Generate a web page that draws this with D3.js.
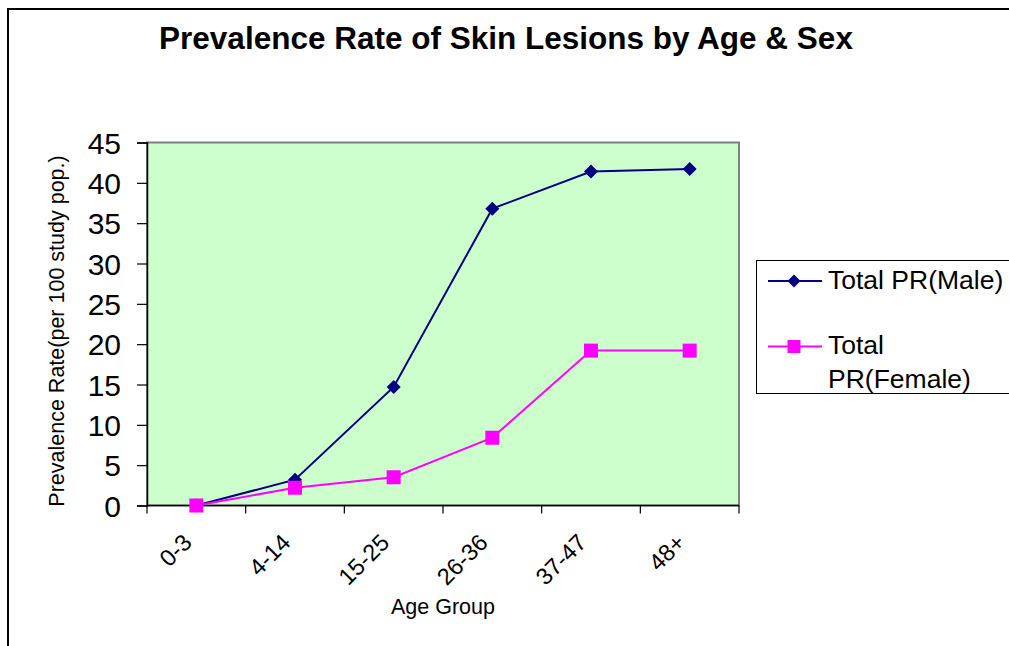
<!DOCTYPE html>
<html>
<head>
<meta charset="utf-8">
<script src="https://cdn.jsdelivr.net/npm/d3@7"></script>
<style>
  html, body { margin: 0; padding: 0; background: #fff; }
  svg { display: block; font-family: Arial, "Liberation Sans", sans-serif; }
</style>
</head>
<body>
<svg id="chart" width="1009" height="646"></svg>
<script>
const categories = ["0-3", "4-14", "15-25", "26-36", "37-47", "48+"];
const maleValues = [0, 3.2, 14.7, 36.8, 41.4, 41.7];
const femaleValues = [0, 2.2, 3.5, 8.4, 19.2, 19.2];
const yTicks = [0, 5, 10, 15, 20, 25, 30, 35, 40, 45];
const seriesNames = ["Total PR(Male)", "Total PR(Female)"];
const titleText = "Prevalence Rate of Skin Lesions by Age & Sex";
const xTitle = "Age Group";
const yTitle = "Prevalence Rate(per 100 study pop.)";

const svg = d3.select("#chart");
const plot = { left: 147, right: 739, top: 142.5, bottom: 505.5 };

// outer frame
svg.append("path")
  .attr("d", "M8,650 L8,9 L1015,9")
  .attr("fill", "none").attr("stroke", "#000").attr("stroke-width", 2);

// title
svg.append("text")
  .attr("x", 506).attr("y", 49)
  .attr("text-anchor", "middle")
  .attr("font-size", 31.5).attr("font-weight", "bold")
  .text(titleText);

const x = d3.scaleBand().domain(categories).range([plot.left, plot.right]);
const y = d3.scaleLinear().domain([0, 45]).range([plot.bottom, plot.top]);

// plot area
svg.append("rect")
  .attr("x", plot.left).attr("y", plot.top)
  .attr("width", plot.right - plot.left).attr("height", plot.bottom - plot.top)
  .attr("fill", "#CCFFCC").attr("stroke", "#808080").attr("stroke-width", 2);

// y axis
const yAxis = svg.append("g")
  .attr("transform", `translate(${plot.left},0)`)
  .call(d3.axisLeft(y).tickValues(yTicks).tickSize(10).tickPadding(16));
yAxis.select(".domain").attr("stroke", "#000").attr("stroke-width", 1.5);
yAxis.selectAll(".tick line").attr("stroke", "#000").attr("stroke-width", 1.2);
yAxis.selectAll(".tick text")
  .attr("font-size", 30).attr("font-family", "Arial, 'Liberation Sans', sans-serif")
  .attr("fill", "#000").attr("dy", "0.36em");

// x axis
const xTickPos = d3.range(categories.length + 1).map(i => plot.left + i * x.step());
const xAxisG = svg.append("g");
xAxisG.append("line")
  .attr("x1", plot.left).attr("x2", plot.right)
  .attr("y1", plot.bottom).attr("y2", plot.bottom)
  .attr("stroke", "#000").attr("stroke-width", 1.5);
xAxisG.selectAll("line.tk").data(xTickPos).join("line")
  .attr("class", "tk")
  .attr("x1", d => d).attr("x2", d => d)
  .attr("y1", plot.bottom).attr("y2", plot.bottom + 8)
  .attr("stroke", "#000").attr("stroke-width", 1.2);
xAxisG.selectAll("text").data(categories).join("text")
  .attr("transform", d => `translate(${x(d) + x.bandwidth() / 2 - 3},544) rotate(-45)`)
  .attr("text-anchor", "end")
  .attr("font-size", 23.5)
  .text(d => d);

// axis titles
svg.append("text")
  .attr("x", 443).attr("y", 614)
  .attr("text-anchor", "middle").attr("font-size", 21.5)
  .text(xTitle);
svg.append("text")
  .attr("transform", "translate(64,331) rotate(-90)")
  .attr("text-anchor", "middle").attr("font-size", 21.5)
  .text(yTitle);

// lines
const cx = d => x(d) + x.bandwidth() / 2;
const line = d3.line().x((d, i) => cx(categories[i])).y(d => y(d));

svg.append("path").datum(maleValues)
  .attr("d", line).attr("fill", "none")
  .attr("stroke", "#000080").attr("stroke-width", 2);
svg.append("path").datum(femaleValues)
  .attr("d", line).attr("fill", "none")
  .attr("stroke", "#FF00FF").attr("stroke-width", 2);

const diamond = (s) => `M0,${-s} L${s},0 L0,${s} L${-s},0 Z`;

svg.append("g").selectAll("path").data(maleValues).join("path")
  .attr("transform", (d, i) => `translate(${cx(categories[i])},${y(d)})`)
  .attr("d", diamond(7))
  .attr("fill", "#000080");

svg.append("g").selectAll("rect").data(femaleValues).join("rect")
  .attr("x", (d, i) => cx(categories[i]) - 7)
  .attr("y", d => y(d) - 7)
  .attr("width", 14).attr("height", 14)
  .attr("fill", "#FF00FF");

// legend
const lg = svg.append("g");
lg.append("rect")
  .attr("x", 756.5).attr("y", 260.5).attr("width", 270).attr("height", 133)
  .attr("fill", "#fff").attr("stroke", "#000").attr("stroke-width", 1);

lg.append("line").attr("x1", 768).attr("x2", 822).attr("y1", 281).attr("y2", 281)
  .attr("stroke", "#000080").attr("stroke-width", 2);
lg.append("path").attr("transform", "translate(794,281)").attr("d", diamond(6.5)).attr("fill", "#000080");
lg.append("text").attr("x", 828).attr("y", 289).attr("font-size", 26.5).text(seriesNames[0]);

lg.append("line").attr("x1", 768).attr("x2", 822).attr("y1", 346.5).attr("y2", 346.5)
  .attr("stroke", "#FF00FF").attr("stroke-width", 2);
lg.append("rect").attr("x", 787.5).attr("y", 340).attr("width", 13).attr("height", 13).attr("fill", "#FF00FF");
const ft = seriesNames[1].split("PR");
lg.append("text").attr("x", 828).attr("y", 354).attr("font-size", 26.5).text(ft[0].trim());
lg.append("text").attr("x", 828).attr("y", 388).attr("font-size", 26.5).text("PR" + ft[1]);
</script>
</body>
</html>
